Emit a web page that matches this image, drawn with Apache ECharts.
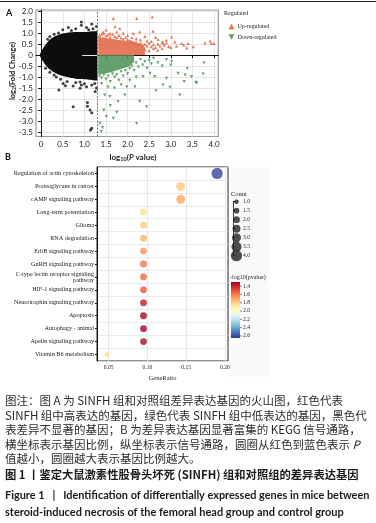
<!DOCTYPE html>
<html>
<head>
<meta charset="utf-8">
<script src="https://cdn.jsdelivr.net/npm/echarts@6/dist/echarts.min.js"></script>
<style>
html, body { margin: 0; padding: 0; background: #fff; }
#main { width: 376px; height: 523px; }
</style>
</head>
<body>
<div id="main"></div>
<script>
// ---- panel A : volcano plot ----
var volXTicks = [0, 0.5, 1, 1.5, 2, 2.5, 3, 3.5, 4];
var volYTicks = [2, 1.5, 1, 0.5, 0, -0.5, -1, -1.5, -2, -2.5, -3, -3.5];
var pCut = 1.3;

// dense cloud of non-significant genes (outline of the black mass)
var nsX    = [-0.04, 0, 0.05, 0.1, 0.15, 0.2, 0.3, 0.4, 0.5, 0.6, 0.7, 0.8, 0.9, 1.0, 1.1, 1.2, 1.3];
var nsUp   = [0, 0.15, 0.32, 0.48, 0.6, 0.7, 0.83, 0.92, 0.98, 1.02, 1.04, 1.05, 1.05, 1.05, 1.06, 1.08, 1.1];
var nsDown = [0, -0.15, -0.3, -0.45, -0.56, -0.65, -0.78, -0.88, -0.95, -1.0, -1.04, -1.07, -1.09, -1.1, -1.12, -1.14, -1.16];
// thin empty streak at fold change 0 inside the black mass
var zeroGapX = [0.95, 1.3];

// dense cores of up / down regulated genes
var upCoreX   = [1.32, 1.5, 1.7, 1.9, 2.1, 2.3, 2.4];
var upCoreTop = [0.82, 0.78, 0.72, 0.66, 0.58, 0.48, 0.35];
var downCoreX   = [1.32, 1.5, 1.7, 1.9, 2.05, 2.15];
var downCoreBot = [-0.88, -0.82, -0.72, -0.6, -0.48, -0.3];

var nsPts = [[0.93,1.51],[0.93,1.36],[1.17,1.41],[1.28,1.3],[0.63,1.26],[0.8,1.2],[1.05,1.25],[0.5,1.15],
  [0.4,1.0],[0.3,0.95],[0.2,0.85],[1.2,1.2],[0.41,-1.59],[0.51,-1.29],[0.56,-1.39],[0.74,-1.4],[0.90,-1.51],
  [0.93,-1.36],[1.05,-1.44],[1.17,-1.36],[1.24,-1.29],[0.74,-2.35],[1.07,-2.15],[1.07,-2.32],[1.13,-2.5],
  [1.17,-2.62],[1.17,-3.33],[1.14,-3.41],[0.3,-0.9],[0.2,-0.78],[0.6,-1.2],[0.8,-1.25],[1.0,-1.3],[0.15,0.72],
  [0.1,-0.6],[0.45,-1.1],[1.28,-1.5],[1.25,-1.65],[0.7,1.12],[1.1,1.15],[0.35,-1.0],[0.9,-1.22]];

var upPts = [[1.35,0.9],[1.4,0.95],[1.45,1.0],[1.5,0.88],[1.55,0.92],[1.6,0.82],[1.65,0.95],[1.7,0.85],
  [1.75,0.8],[1.8,0.9],[1.85,0.78],[1.9,0.72],[1.95,0.8],[2.0,0.7],[2.05,0.66],[2.1,0.62],[2.15,0.58],
  [2.2,0.6],[2.25,0.5],[2.3,0.55],[2.35,0.45],[2.4,0.5],[2.45,0.42],[2.5,0.55],[2.55,0.38],[2.6,0.48],
  [2.65,0.35],[2.7,0.5],[2.75,0.42],[2.8,0.3],[2.85,0.45],[2.9,0.55],[2.95,0.4],[2.4,0.25],[2.5,0.2],
  [2.6,0.3],[2.7,0.22],[2.8,0.6],[2.45,0.65],[2.55,0.62],[2.3,0.7],[2.2,0.75],[2.1,0.8],[1.43,1.05],
  [1.5,1.14],[1.59,0.99],[1.67,1.67],[1.71,1.29],[1.82,1.21],[2.21,1.67],[2.57,1.74],[2.59,1.09],
  [2.28,1.06],[2.13,0.99],[2.71,0.71],[2.82,0.56],[2.9,0.68],[3.02,0.83],[3.09,0.6],[3.13,0.41],
  [3.25,0.53],[3.37,0.33],[3.40,0.53],[3.52,0.38],[3.79,0.56],[3.91,0.65],[3.94,0.53],[4.0,0.53],
  [3.3,0.45],[3.0,0.35],[2.0,0.9],[1.9,1.0],[1.75,1.05],[2.4,0.85],[2.65,0.8]];

var downPts = [[1.35,-0.95],[1.4,-1.05],[1.45,-0.9],[1.5,-1.1],[1.55,-0.95],[1.6,-1.2],[1.65,-0.85],
  [1.7,-1.0],[1.75,-0.9],[1.8,-1.15],[1.85,-0.75],[1.9,-0.95],[1.95,-0.7],[2.0,-0.85],[2.05,-0.6],
  [2.1,-0.5],[2.15,-0.7],[2.2,-0.35],[2.25,-0.55],[2.3,-0.2],[2.35,-0.45],[2.4,-0.3],[2.45,-0.6],
  [2.5,-0.25],[2.55,-0.4],[2.6,-0.15],[2.7,-0.35],[2.8,-0.5],[2.9,-0.2],[3.0,-0.45],[2.36,-0.98],
  [2.52,-0.83],[2.63,-0.98],[2.66,-1.62],[2.82,-1.36],[2.98,-1.47],[3.17,-0.83],[3.33,-0.91],
  [3.48,-0.98],[3.60,-1.26],[3.21,-1.82],[2.21,-3.11],[2.17,-1.44],[1.98,-1.44],[1.94,-1.82],
  [3.77,-0.35],[3.75,-0.86],[3.38,-0.61],[3.31,-1.21],[3.58,-1.24],[1.47,-1.82],[1.59,-1.89],
  [1.78,-2.12],[1.51,-2.8],[1.67,-2.88],[1.36,-3.1],[1.39,-3.48],[2.44,-2.35],[2.28,-2.1],
  [2.90,-1.06],[3.02,-0.30],[1.55,-1.45],[1.7,-1.5],[1.85,-1.35],[1.4,-1.3],[1.6,-2.3],[1.45,-2.5],
  [1.75,-2.6],[2.05,-1.15],[2.2,-1.0],[1.42,-3.3]];

// ---- panel B : KEGG dot plot ----
var pathways = ['Regulation of actin cytoskeleton', 'Proteoglycans in cancer', 'cAMP signaling pathway',
  'Long-term potentiation', 'Glioma', 'RNA degradation', 'ErbB signaling pathway', 'GnRH signaling pathway',
  'C-type lectin receptor signaling\npathway', 'HIF-1 signaling pathway', 'Neurotrophin signaling pathway',
  'Apoptosis', 'Autophagy - animal', 'Apelin signaling pathway', 'Vitamin B6 metabolism'];
var geneRatio = [0.190, 0.143, 0.143, 0.095, 0.095, 0.095, 0.095, 0.095, 0.095, 0.095, 0.095, 0.095, 0.095, 0.095, 0.048];
var geneCount = [4, 3, 3, 2, 2, 2, 2, 2, 2, 2, 2, 2, 2, 2, 1];
var negLogP   = [2.62, 1.78, 1.70, 1.84, 1.78, 1.72, 1.65, 1.58, 1.56, 1.52, 1.38, 1.32, 1.32, 1.33, 1.82];
var ratioTicks = [0.05, 0.10, 0.15, 0.20];
var countLegend = [1.0, 1.5, 2.0, 2.5, 3.0, 3.5, 4.0];
var colorTicks = [1.4, 1.6, 1.8, 2.0, 2.2, 2.4, 2.6];

var pMin = 1.30, pMax = 2.65;
var rdylbu = ['#a50026', '#d73027', '#f46d43', '#fdae61', '#fee090', '#ffffbf',
              '#e0f3f8', '#abd9e9', '#74add1', '#4575b4', '#313695'];

var captionLines = [
  '图注：图 A 为 SINFH 组和对照组差异表达基因的火山图，红色代表',
  'SINFH 组中高表达的基因，绿色代表 SINFH 组中低表达的基因，黑色代',
  '表差异不显著的基因；B 为差异表达基因显著富集的 KEGG 信号通路，',
  '横坐标表示基因比例，纵坐标表示信号通路，圆圈从红色到蓝色表示 {i|P}',
  '值越小，圆圈越大表示基因比例越大。'
];
var titleCn = '图 1 丨鉴定大鼠激素性股骨头坏死 (SINFH) 组和对照组的差异表达基因';
var titleEn = ['Figure 1   |   Identification of differentially expressed genes in mice between',
               'steroid-induced necrosis of the femoral head group and control group'];

function dotSize(c) { return 2.4 + 2.2 * c; }
function pair(xs, ys) { return xs.map(function (x, i) { return [x, ys[i]]; }); }

var chart = echarts.init(document.getElementById('main'));

var serif = 'Liberation Serif';
var sans = 'Lato';
var cjk = '"Noto Sans CJK SC"';
var upColor = '#e2603f', downColor = '#4a9154';
var downTri = 'path://M0,0L10,0L5,9Z';

// colour bar geometry
var cbX = 231, cbY = 282, cbW = 9, cbH = 56;
var cbStops = rdylbu.map(function (c, i) { return { offset: i / (rdylbu.length - 1), color: c }; });

var graphics = [
  { type: 'line', shape: { x1: 0, y1: 1.5, x2: 376, y2: 1.5 }, style: { stroke: '#222', lineWidth: 1.2 } },
  { type: 'text', left: 6, top: 9, style: { text: 'A', font: 'bold 9px ' + sans, fill: '#111' } },
  { type: 'text', left: 5, top: 153, style: { text: 'B', font: 'bold 9px ' + sans, fill: '#111' } },
  { type: 'text', x: 12.5, y: 71, rotation: Math.PI / 2,
    style: { text: '{a|log}{s|2}{a|(Fold Change)}', align: 'center', verticalAlign: 'middle',
      rich: { a: { font: 'bold 7.5px ' + sans, fill: '#222' }, s: { font: 'bold 5px ' + sans, fill: '#222', padding: [4, 0, 0, 0] } } } },
  { type: 'text', x: 133, y: 157,
    style: { text: '{a|log}{s|10}{a|(}{i|P}{a| value)}', align: 'center', verticalAlign: 'middle',
      rich: { a: { font: 'bold 8px ' + sans, fill: '#222' }, s: { font: 'bold 5.5px ' + sans, fill: '#222', padding: [4, 0, 0, 0] },
              i: { font: 'italic bold 8px ' + sans, fill: '#222' } } } },
  { type: 'text', x: 224, y: 13, style: { text: 'Regulated', font: '6px ' + serif, fill: '#222', verticalAlign: 'middle' } },
  // legend panel background of B
  { type: 'rect', shape: { x: 229, y: 167, width: 40, height: 210 }, style: { fill: '#fafafa' }, z: -10 },
  { type: 'text', x: 231, y: 194.5, style: { text: 'Count', font: '6.5px ' + serif, fill: '#222', verticalAlign: 'middle' } },
  { type: 'text', x: 230, y: 277, style: { text: '-log10(pvalue)', font: '6px ' + serif, fill: '#222', verticalAlign: 'middle' } },
  { type: 'rect', shape: { x: cbX, y: cbY, width: cbW, height: cbH },
    style: { fill: new echarts.graphic.LinearGradient(0, 0, 0, 1, cbStops) } }
];

colorTicks.forEach(function (v) {
  var y = cbY + (v - pMin) / (pMax - pMin) * cbH;
  graphics.push({ type: 'line', shape: { x1: cbX + cbW, y1: y, x2: cbX + cbW + 2, y2: y }, style: { stroke: '#333', lineWidth: 0.6 } });
  graphics.push({ type: 'text', x: cbX + cbW + 3, y: y, style: { text: v.toFixed(1), font: '5.5px ' + serif, fill: '#222', verticalAlign: 'middle' } });
});

var capY = [401, 415.5, 430, 444.3, 458.5];
captionLines.forEach(function (t, i) {
  graphics.push({ type: 'text', x: 5, y: capY[i],
    style: { text: t, verticalAlign: 'middle', rich: { i: { font: 'italic 11.5px ' + cjk, fill: '#2b2b2b' } },
      font: '11.5px ' + cjk, fill: '#2b2b2b' } });
});
graphics.push({ type: 'text', x: 5, y: 475, style: { text: titleCn, verticalAlign: 'middle', font: 'bold 11.3px ' + cjk, fill: '#1a1a1a' } });
graphics.push({ type: 'text', x: 5, y: 495, style: { text: titleEn[0], verticalAlign: 'middle', font: 'bold 10.9px ' + sans, fill: '#1a1a1a' } });
graphics.push({ type: 'text', x: 5, y: 512.5, style: { text: titleEn[1], verticalAlign: 'middle', font: 'bold 11px ' + sans, fill: '#1a1a1a' } });

var option = {
  backgroundColor: '#fff',
  animation: false,
  grid: [
    { left: 36, top: 10, width: 182.3, height: 126.5, show: true, borderColor: '#999', borderWidth: 1.2, backgroundColor: '#fff' },
    { left: 97, top: 167, width: 131, height: 194, show: true, borderColor: '#222', borderWidth: 1, backgroundColor: '#fff' },
    { left: 233, top: 201.7, width: 7, height: 54 }
  ],
  legend: {
    orient: 'vertical', left: 223.5, top: 18.5, itemWidth: 6, itemHeight: 6, itemGap: 4.5,
    data: ['Up-regulated', 'Down-regulated'],
    textStyle: { fontFamily: serif, fontSize: 6, color: '#222', padding: [0, 0, 0, -2] }
  },
  visualMap: {
    show: false, type: 'continuous', seriesIndex: 8, dimension: 2, min: pMin, max: pMax,
    inRange: { color: rdylbu }
  },
  xAxis: [
    { gridIndex: 0, type: 'value', min: -0.12, max: 4.1,
      axisLine: { lineStyle: { color: '#111', width: 1 } },
      axisTick: { customValues: volXTicks, length: 3, lineStyle: { color: '#111' } },
      axisLabel: { customValues: volXTicks, fontFamily: sans, fontSize: 8, color: '#222', margin: 4,
        formatter: function (v) { return v === 0 ? '0' : v.toFixed(1); } },
      splitLine: { show: true, lineStyle: { color: '#dedede', width: 0.8 } } },
    { gridIndex: 1, type: 'value', min: 0.035, max: 0.204,
      name: 'GeneRatio', nameLocation: 'middle', nameGap: 14,
      nameTextStyle: { fontFamily: serif, fontSize: 6.5, color: '#222' },
      axisLine: { lineStyle: { color: '#111', width: 1 } },
      axisTick: { customValues: ratioTicks, length: 2.5, lineStyle: { color: '#111' } },
      axisLabel: { customValues: ratioTicks, fontFamily: serif, fontSize: 5.5, color: '#222', margin: 4,
        formatter: function (v) { return v.toFixed(2); } },
      splitLine: { show: true, lineStyle: { color: '#e2e2e2', width: 0.8 } } },
    { gridIndex: 2, type: 'value', min: 0, max: 1, show: false }
  ],
  yAxis: [
    { gridIndex: 0, type: 'value', min: -3.7, max: 2.05,
      axisLine: { show: true, lineStyle: { color: '#111', width: 1 } },
      axisTick: { show: true, customValues: volYTicks, length: 3, lineStyle: { color: '#111' } },
      axisLabel: { customValues: volYTicks, fontFamily: sans, fontSize: 8, color: '#222', margin: 3,
        formatter: function (v) { return v === 0 ? '0' : v.toFixed(1); } },
      splitLine: { show: true, lineStyle: { color: '#dedede', width: 0.8 } } },
    { gridIndex: 1, type: 'category', inverse: true, data: pathways,
      axisLine: { show: true, lineStyle: { color: '#111', width: 1 } },
      axisTick: { show: true, length: 2, alignWithLabel: true, lineStyle: { color: '#111' } },
      axisLabel: { fontFamily: serif, fontSize: 6.2, color: '#222', margin: 3, lineHeight: 6, align: 'right' },
      splitLine: { show: true, lineStyle: { color: '#e6e6e6', width: 0.8 } } },
    { gridIndex: 2, type: 'category', inverse: true, boundaryGap: false, position: 'right',
      data: countLegend.map(function (v) { return v.toFixed(1); }),
      axisLine: { show: true, lineStyle: { color: '#111', width: 0.8 } },
      axisTick: { show: true, length: 2, inside: false, lineStyle: { color: '#111' } },
      axisLabel: { fontFamily: serif, fontSize: 5.5, color: '#222', margin: 3 } }
  ],
  series: [
    { type: 'line', xAxisIndex: 0, yAxisIndex: 0, data: pair(upCoreX, upCoreTop), smooth: 0.4, symbol: 'none',
      lineStyle: { width: 0 }, areaStyle: { color: upColor, opacity: 0.85 }, silent: true, z: 2 },
    { type: 'line', xAxisIndex: 0, yAxisIndex: 0, data: pair(downCoreX, downCoreBot), smooth: 0.4, symbol: 'none',
      lineStyle: { width: 0 }, areaStyle: { color: downColor, opacity: 0.85 }, silent: true, z: 2 },
    { type: 'line', xAxisIndex: 0, yAxisIndex: 0, data: pair(nsX, nsUp), smooth: 0.4, symbol: 'none',
      lineStyle: { width: 0 }, areaStyle: { color: '#0d0d0d', opacity: 1 }, silent: true, z: 3,
      markLine: { silent: true, symbol: 'none', label: { show: false },
        lineStyle: { color: '#ffffff', type: 'solid', width: 0.9 },
        data: [[{ coord: [zeroGapX[0], 0] }, { coord: [zeroGapX[1], 0] }]] } },
    { type: 'line', xAxisIndex: 0, yAxisIndex: 0, data: pair(nsX, nsDown), smooth: 0.4, symbol: 'none',
      lineStyle: { width: 0 }, areaStyle: { color: '#0d0d0d', opacity: 1 }, silent: true, z: 3,
      markLine: { silent: true, symbol: 'none', label: { show: false },
        lineStyle: { color: '#3a6fb0', type: [2, 1.5], width: 0.9 }, data: [{ xAxis: pCut }] } },
    { name: 'Non-significant', type: 'scatter', xAxisIndex: 0, yAxisIndex: 0, data: nsPts,
      symbolSize: 3, itemStyle: { color: '#111' }, z: 4 },
    { name: 'Up-regulated', type: 'scatter', xAxisIndex: 0, yAxisIndex: 0, data: upPts,
      symbol: 'triangle', symbolSize: 3.2, itemStyle: { color: upColor, opacity: 0.85 }, z: 4 },
    { name: 'Down-regulated', type: 'scatter', xAxisIndex: 0, yAxisIndex: 0, data: downPts,
      symbol: downTri, symbolSize: 3.2, itemStyle: { color: downColor, opacity: 0.85 }, z: 4 },
    { type: 'scatter', xAxisIndex: 2, yAxisIndex: 2,
      data: countLegend.map(function (v) { return [0.5, v.toFixed(1), v]; }),
      symbolSize: function (d) { return dotSize(d[2]); }, itemStyle: { color: '#222' } },
    { type: 'scatter', xAxisIndex: 1, yAxisIndex: 1,
      data: pathways.map(function (p, i) { return [geneRatio[i], p, negLogP[i], geneCount[i]]; }),
      symbolSize: function (d) { return dotSize(d[3]); }, z: 5 }
  ],
  graphic: graphics
};

chart.setOption(option);
</script>
</body>
</html>
